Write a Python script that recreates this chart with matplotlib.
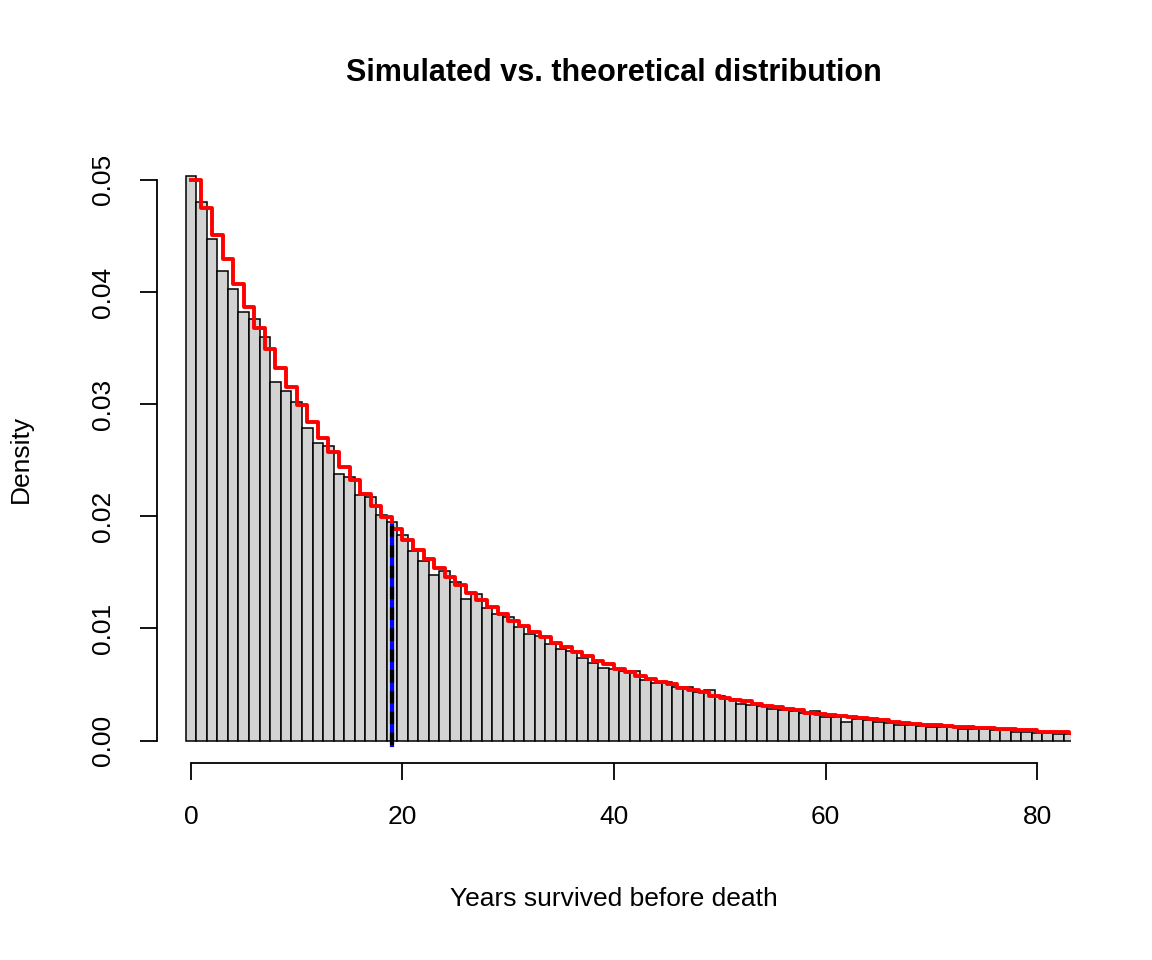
import matplotlib
matplotlib.use("Agg")
import matplotlib.pyplot as plt
import numpy as np

plt.rcParams['font.family'] = ['Liberation Sans', 'DejaVu Sans']

years = list(range(0, 84))
sim_density = [0.0503, 0.0480, 0.0447, 0.0419, 0.0403, 0.0382, 0.0376, 0.0360, 0.0320, 0.0312,
               0.0302, 0.0279, 0.0265, 0.0263, 0.0238, 0.0235, 0.0219, 0.0217, 0.0201, 0.0195,
               0.0183, 0.0169, 0.0160, 0.0148, 0.0151, 0.0141, 0.0126, 0.0131, 0.0118, 0.0113,
               0.0110, 0.0101, 0.0095, 0.0093, 0.0086, 0.0082, 0.0080, 0.0074, 0.0069, 0.0065,
               0.0064, 0.0062, 0.0062, 0.0054, 0.0051, 0.0052, 0.0048, 0.0048, 0.0043, 0.0045,
               0.0040, 0.0037, 0.0033, 0.0032, 0.0031, 0.0028, 0.0027, 0.0026, 0.0025, 0.0026,
               0.0021, 0.0021, 0.0017, 0.0019, 0.0018, 0.0017, 0.0016, 0.0014, 0.0014, 0.0013,
               0.0012, 0.0012, 0.0012, 0.0010, 0.0010, 0.0010, 0.0009, 0.0009, 0.0008, 0.0008,
               0.0007, 0.0007, 0.0006, 0.0006]
theo_density = [0.0500, 0.0475, 0.0451, 0.0429, 0.0407, 0.0387, 0.0368, 0.0349, 0.0332, 0.0315,
                0.0299, 0.0284, 0.0270, 0.0257, 0.0244, 0.0232, 0.0220, 0.0209, 0.0199, 0.0189,
                0.0179, 0.0170, 0.0162, 0.0154, 0.0146, 0.0139, 0.0132, 0.0125, 0.0119, 0.0113,
                0.0107, 0.0102, 0.0097, 0.0092, 0.0087, 0.0083, 0.0079, 0.0075, 0.0071, 0.0068,
                0.0064, 0.0061, 0.0058, 0.0055, 0.0052, 0.0050, 0.0047, 0.0045, 0.0043, 0.0040,
                0.0038, 0.0036, 0.0035, 0.0033, 0.0031, 0.0030, 0.0028, 0.0027, 0.0025, 0.0024,
                0.0023, 0.0022, 0.0021, 0.0020, 0.0019, 0.0018, 0.0017, 0.0016, 0.0015, 0.0014,
                0.0014, 0.0013, 0.0012, 0.0012, 0.0011, 0.0011, 0.0010, 0.0010, 0.0009, 0.0009,
                0.0008, 0.0008, 0.0008, 0.0007]
mean_years = 19
mean_height = 0.0191
x_ticks = [0, 20, 40, 60, 80]
y_ticks = [0.00, 0.01, 0.02, 0.03, 0.04, 0.05]

fig = plt.figure(figsize=(11.52, 9.6), dpi=100)
ax = fig.add_axes([0.1363, 0.2052, 0.9297 - 0.1363, 0.8396 - 0.2052])
ax.bar(years, sim_density, width=1.0, color="#d3d3d3", edgecolor="black", linewidth=1.1)
ax.step(years, theo_density, where="post", color="red", linewidth=2.8)
ax.plot([mean_years, mean_years], [-0.0004, mean_height], color="blue", linewidth=3.0)
ax.plot([mean_years, mean_years], [-0.0004, mean_height], color="black", linewidth=3.0,
        linestyle=(0, (3, 2)))
ax.set_xlim(-3.2, 83.2)
ax.set_ylim(-0.002, 0.0523)

for s in ["top", "right"]:
    ax.spines[s].set_visible(False)
ax.spines["left"].set_bounds(0, 0.05)
ax.spines["bottom"].set_bounds(0, 80)
ax.spines["left"].set_linewidth(1.3)
ax.spines["bottom"].set_linewidth(1.3)
ax.set_xticks(x_ticks)
ax.set_yticks(y_ticks)
ax.set_xticklabels([str(v) for v in x_ticks])
ax.set_yticklabels(["0.00", "0.01", "0.02", "0.03", "0.04", "0.05"], rotation=90, va="center")
ax.tick_params(axis="both", length=12, width=1.3, labelsize=19, pad=18)

ax.set_xlabel("Years survived before death", fontsize=19, labelpad=42)
ax.set_ylabel("Density", fontsize=19, labelpad=42)
fig.suptitle("Simulated vs. theoretical distribution", fontsize=22, fontweight="bold",
             x=0.533, y=0.94)
fig.savefig("out.png", dpi=100)
